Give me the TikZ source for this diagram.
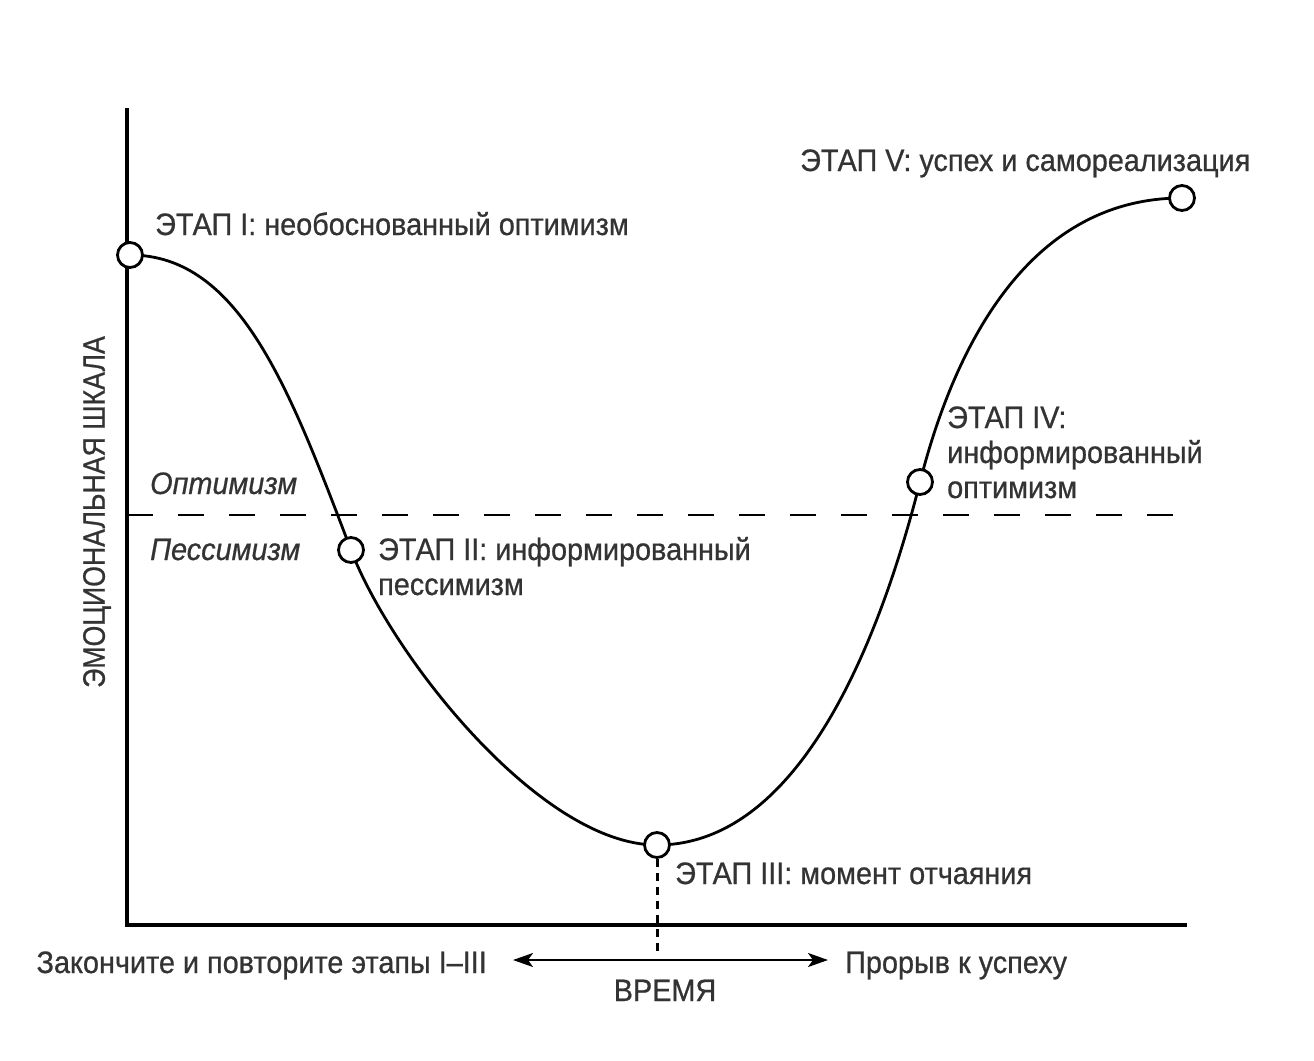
\documentclass[tikz,border=0pt]{standalone}
\usepackage{fontspec}
\setmainfont{Liberation Sans}[FakeStretch=0.93, FakeBold=0.7]
\newfontfamily\narrowfont{Liberation Sans}[FakeStretch=0.86, FakeBold=0.7]
\usetikzlibrary{arrows.meta,positioning}
\tikzset{every picture/.style={/utils/exec={\rmfamily}}}
\definecolor{InkGray}{HTML}{333333}

\begin{document}
\begin{tikzpicture}[
        x=1pt, y=-1pt,
        every node/.style={font=\fontsize{31}{35}\selectfont, text=InkGray},
        axis/.style = {line width=3.4pt, line join=miter},
        curve/.style = {line width=2.8pt},
        dot/.style = {circle, draw, line width=2.8pt, fill=white,
            minimum size=25pt, inner sep=0pt},
        lbl/.style = {anchor=base west, align=left, inner sep=0pt},
        zone/.style = {lbl, font=\fontsize{31}{35}\selectfont\itshape},
        divide/.style = {line width=1.8pt, dash pattern=on 26pt off 25pt},
        drop/.style = {line width=3pt, dash pattern=on 8pt off 6pt},
        timeline/.style = {line width=2pt,
            {Stealth[length=20pt, width=14pt, inset=5pt]}-{Stealth[length=20pt, width=14pt, inset=5pt]}},
    ]
    \useasboundingbox (0,0) rectangle (1314,1060);

    % axes
    \coordinate (top) at (127,108);
    \coordinate (far) at (1187,925);
    \draw[axis] (top) |- (far);
    \node[rotate=90, font=\fontsize{31}{35}\narrowfont] (scale) at (97,512) {ЭМОЦИОНАЛЬНАЯ ШКАЛА};

    % optimism / pessimism border
    \coordinate (d1) at (127,515);
    \coordinate (d2) at (1185,515);
    \draw[divide] (d1) -- (d2);
    \node[zone] (opt) at (150,494) {Оптимизм};
    \node[zone] (pes) at (150,560) {Пессимизм};

    % stage points
    \coordinate (c1) at (130,255);
    \coordinate (c2) at (351,550);
    \coordinate (c3) at (657,845);
    \coordinate (c4) at (920,482);
    \coordinate (c5) at (1182,198);
    \draw[curve] (c1) .. controls (240,255) and (290,390) .. (c2)
        .. controls (391,655) and (540,845) .. (c3)
        .. controls (800,845) and (880,640) .. (c4)
        .. controls (950,364) and (1020,198) .. (c5);

    % time axis
    \coordinate (tm) at (657,953);
    \draw[drop] (c3) -- (tm);
    \foreach \i in {1,...,5}
        \node[dot] (s\i) at (c\i) {};

    % base anchor of a multi-line node is its last line
    \node[lbl] (t1) at (155,235) {ЭТАП I: необоснованный оптимизм};
    \node[lbl] (t2) at (378,595) {ЭТАП II: информированный\\пессимизм};
    \node[lbl] (t3) at (675,884) {ЭТАП III: момент отчаяния};
    \node[lbl] (t4) at (947,498) {ЭТАП IV:\\информированный\\оптимизм};
    \node[lbl] (t5) at (800,171) {ЭТАП V: успех и самореализация};

    \node[anchor=base east, inner sep=0pt] (back) at (487,973) {Закончите и повторите этапы I–III};
    \node[lbl] (fwd) at (845,973) {Прорыв к успеху};
    \node[anchor=base, inner sep=0pt] (time) at (665,1001) {ВРЕМЯ};
    \draw[timeline] ([xshift=26pt]back.east |- 0,960) -- ([xshift=-17pt]fwd.west |- 0,960);
\end{tikzpicture}
\end{document}
